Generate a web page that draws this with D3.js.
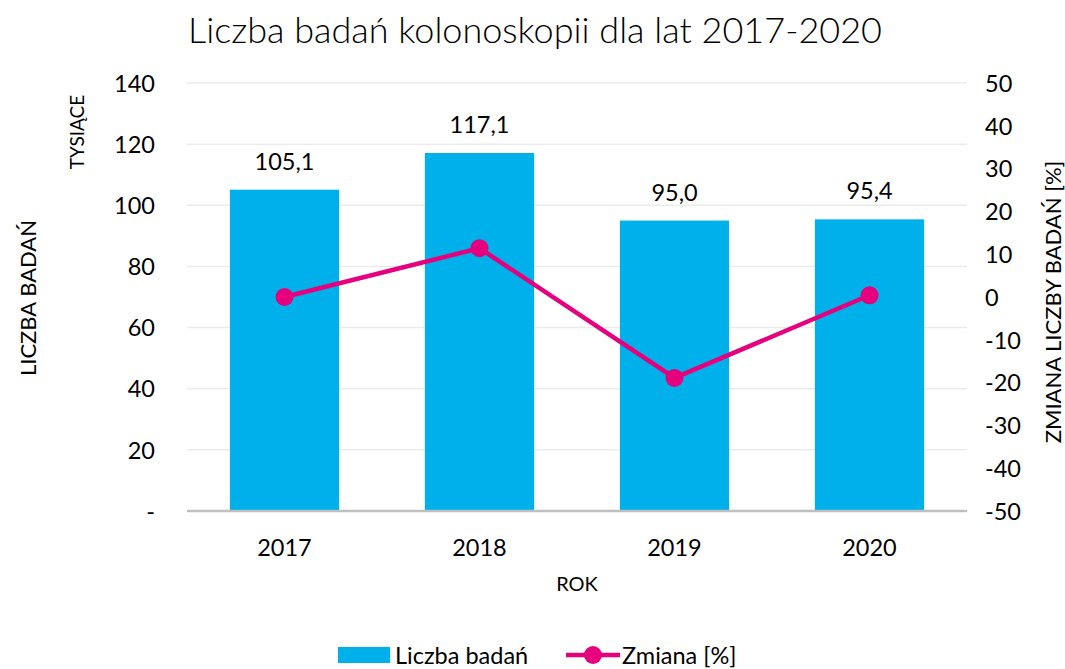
<!DOCTYPE html>
<html><head><meta charset="utf-8">
<script src="https://cdn.jsdelivr.net/npm/d3@7/dist/d3.min.js"></script>
<style>body{margin:0;background:#fff}svg{display:block}text{font-family:Lato,"Open Sans",sans-serif;fill:#000}</style>
</head><body><svg id="c" width="1065" height="669"></svg>
<script>
const years = ["2017","2018","2019","2020"];
const counts = [105.1, 117.1, 95.0, 95.4];
const countLabels = ["105,1","117,1","95,0","95,4"];
const changes = [0, 11.4, -18.9, 0.4];
const leftTicks = [0,20,40,60,80,100,120,140];
const rightTicks = [-50,-40,-30,-20,-10,0,10,20,30,40,50];

const svg = d3.select("#c");
const L=187, R=967, T=83, B=511;
const FS = "23.5px";
const x = d3.scaleBand().domain(years).range([L,R]).paddingInner(0.44).paddingOuter(0.22);
const yL = d3.scaleLinear().domain([0,140]).range([B,T]);
const yR = d3.scaleLinear().domain([-50,50]).range([B,T]);

// grid
svg.append("g").selectAll("line").data(leftTicks.slice(1)).join("line")
  .attr("x1",L).attr("x2",R).attr("y1",d=>yL(d)).attr("y2",d=>yL(d))
  .attr("stroke","#ebebeb").attr("stroke-width",1.5);

// bars
svg.append("g").selectAll("rect").data(years).join("rect")
  .attr("x",d=>x(d)).attr("width",x.bandwidth())
  .attr("y",(d,i)=>yL(counts[i])).attr("height",(d,i)=>B-yL(counts[i]))
  .attr("fill","#00B0EA");

// axis line
svg.append("line").attr("x1",L).attr("x2",R).attr("y1",B).attr("y2",B).attr("stroke","#bfbfbf").attr("stroke-width",2.5);

// left axis
const gl = svg.append("g").attr("transform",`translate(${L-32},0)`)
  .call(d3.axisLeft(yL).tickValues(leftTicks).tickSize(0).tickFormat(d=>d===0?"-":String(d)));
gl.select(".domain").remove();
gl.selectAll("text").style("font-size",FS).attr("font-family","Lato,'Open Sans',sans-serif").attr("fill","#000").attr("dy","0.35em").attr("x",0);

// right axis
const gr = svg.append("g").attr("transform",`translate(${R+18},0)`)
  .call(d3.axisRight(yR).tickValues(rightTicks).tickSize(0).tickFormat(d=>String(d)));
gr.select(".domain").remove();
gr.selectAll("text").style("font-size",FS).attr("font-family","Lato,'Open Sans',sans-serif").attr("fill","#000").attr("dy","0.35em").attr("x",0);

// x axis
const gx = svg.append("g").attr("transform",`translate(0,${B})`)
  .call(d3.axisBottom(x).tickSize(0));
gx.select(".domain").remove();
gx.selectAll("text").style("font-size",FS).attr("font-family","Lato,'Open Sans',sans-serif").attr("fill","#000").attr("dy","0").attr("y",45);

// data labels
svg.append("g").selectAll("text").data(years).join("text")
  .attr("x",d=>x(d)+x.bandwidth()/2).attr("y",(d,i)=>yL(counts[i])-20)
  .attr("text-anchor","middle").style("font-size",FS).text((d,i)=>countLabels[i]);

// line
const cx = d=>x(d)+x.bandwidth()/2;
svg.append("path").datum(years)
  .attr("d",d3.line().x(cx).y((d,i)=>yR(changes[i])))
  .attr("fill","none").attr("stroke","#E6007E").attr("stroke-width",4.5);
svg.append("g").selectAll("circle").data(years).join("circle")
  .attr("cx",cx).attr("cy",(d,i)=>yR(changes[i])).attr("r",9).attr("fill","#E6007E");

// titles
svg.append("text").attr("x",535).attr("y",43).attr("text-anchor","middle")
  .style("font-size","36px").style("font-weight","300").text("Liczba badań kolonoskopii dla lat 2017-2020");
svg.append("text").attr("transform","translate(36,298) rotate(-90)").attr("text-anchor","middle").style("font-size","22px").text("LICZBA BADAŃ");
svg.append("text").attr("transform","translate(84,132) rotate(-90)").attr("text-anchor","middle").style("font-size","19px").text("TYSIĄCE");
svg.append("text").attr("transform","translate(1061,302) rotate(-90)").attr("text-anchor","middle").style("font-size","22px").text("ZMIANA LICZBY BADAŃ [%]");
svg.append("text").attr("x",577).attr("y",591).attr("text-anchor","middle").style("font-size","20px").text("ROK");

// legend
const lg = svg.append("g");
lg.append("rect").attr("x",338).attr("y",647).attr("width",52).attr("height",16).attr("fill","#00B0EA");
lg.append("text").attr("x",395).attr("y",664).style("font-size",FS).text("Liczba badań");
lg.append("line").attr("x1",566).attr("x2",620).attr("y1",655).attr("y2",655).attr("stroke","#E6007E").attr("stroke-width",4.5);
lg.append("circle").attr("cx",593).attr("cy",655).attr("r",9).attr("fill","#E6007E");
lg.append("text").attr("x",622).attr("y",664).style("font-size",FS).text("Zmiana [%]");
</script></body></html>
